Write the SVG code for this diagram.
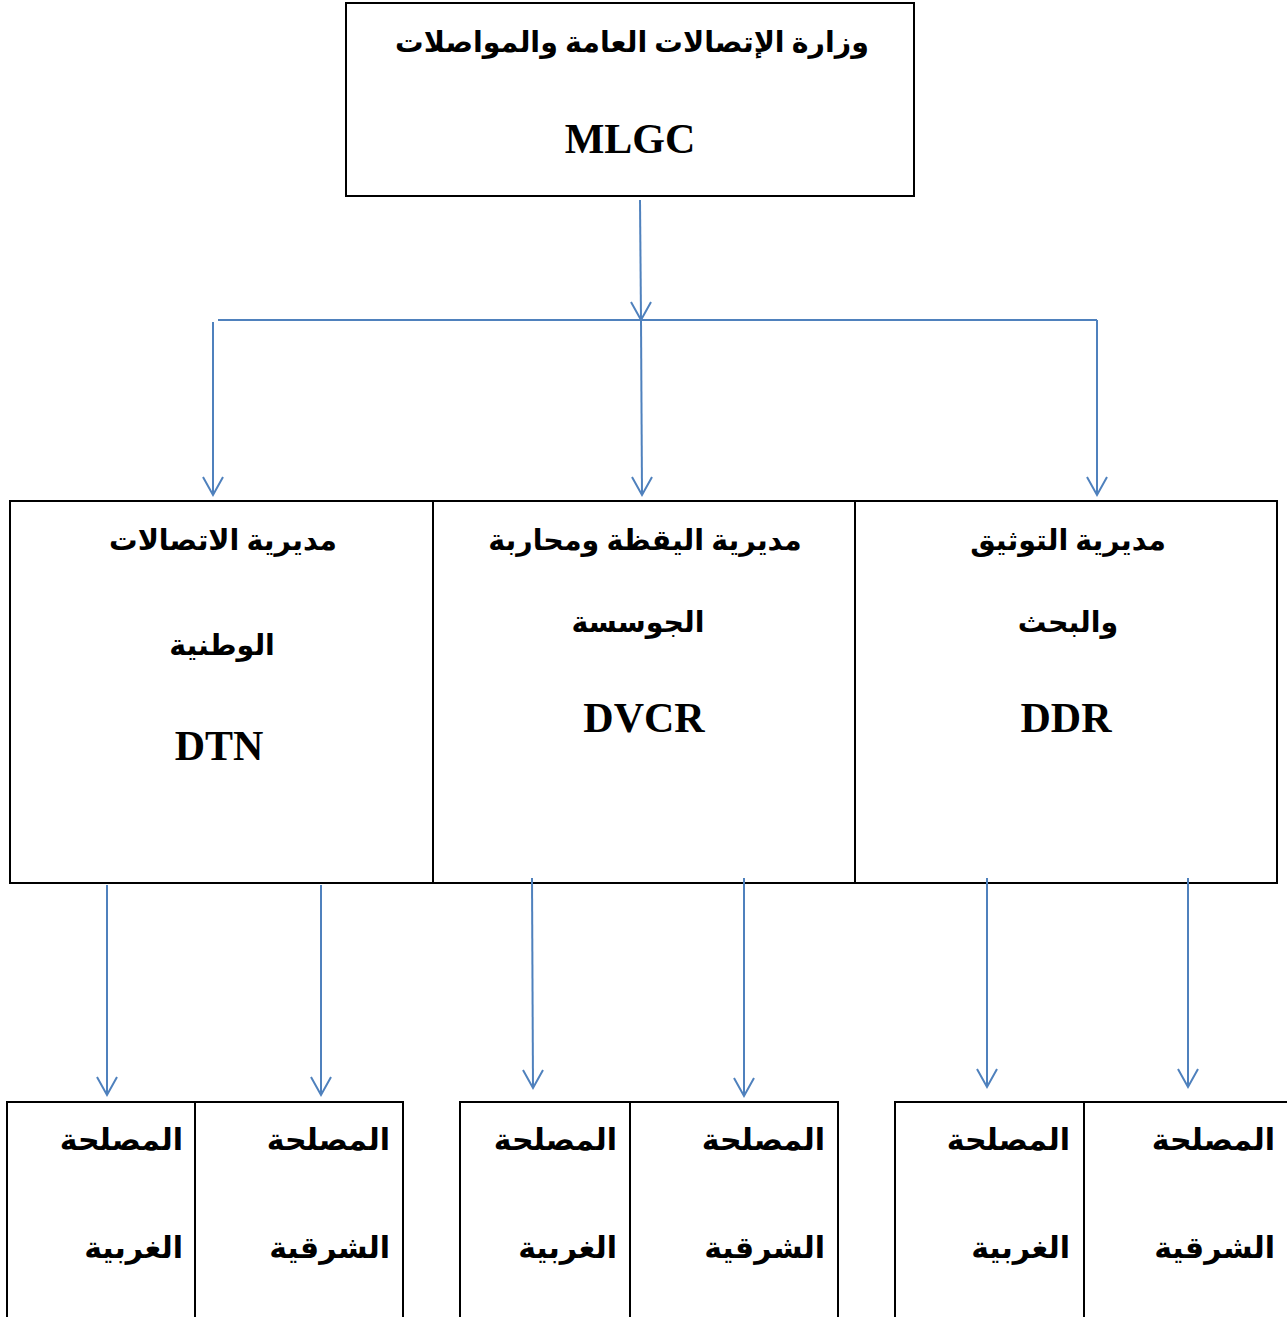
<svg xmlns="http://www.w3.org/2000/svg" width="1287" height="1317" viewBox="0 0 1287 1317">
<style>
.box{fill:#fff;stroke:#000;stroke-width:2}
.ar{font-family:"Liberation Serif","DejaVu Sans",serif;font-weight:bold;font-size:30px;fill:#000}
.h{font-size:28.5px}
.la{font-family:"Liberation Serif",serif;font-weight:bold;font-size:42px;fill:#000;text-anchor:middle}
.c{text-anchor:middle}
.r{text-anchor:end}
.con{stroke:#4f81bd;stroke-width:2;fill:none}
</style>
<defs>
<marker id="dn" markerUnits="userSpaceOnUse" markerWidth="24" markerHeight="24" viewBox="-12 -20 24 24" refX="0" refY="0" orient="0">
<path d="M-10,-18 L0,0 L10,-18" fill="none" stroke="#4f81bd" stroke-width="2"/>
</marker>
</defs>
<g id="mlgc">
<rect class="box" x="346" y="3" width="568" height="193"/>
<text class="ar h c" x="632" y="52" direction="rtl">وزارة الإتصالات العامة والمواصلات</text>
<text class="la" x="630" y="153">MLGC</text>
</g>
<g id="dtn">
<rect class="box" x="10" y="501" width="423" height="382"/>
<text class="ar h c" x="223" y="550" direction="rtl">مديرية الاتصالات</text>
<text class="ar h c" x="222" y="655" direction="rtl">الوطنية</text>
<text class="la" x="219" y="760">DTN</text>
</g>
<g id="dvcr">
<rect class="box" x="433" y="501" width="422" height="382"/>
<text class="ar h c" x="645" y="550" direction="rtl">مديرية اليقظة ومحاربة</text>
<text class="ar h c" x="638" y="632" direction="rtl">الجوسسة</text>
<text class="la" x="644" y="732">DVCR</text>
</g>
<g id="ddr">
<rect class="box" x="855" y="501" width="422" height="382"/>
<text class="ar h c" x="1068" y="550" direction="rtl">مديرية التوثيق</text>
<text class="ar h c" x="1068" y="632" direction="rtl">والبحث</text>
<text class="la" x="1066" y="732">DDR</text>
</g>
<g id="dtn-west">
<rect class="box" x="7" y="1102" width="188" height="230"/>
<text class="ar r" x="183" y="1150" direction="ltr">المصلحة</text>
<text class="ar r" x="183" y="1258" direction="ltr">الغربية</text>
</g>
<g id="dtn-east">
<rect class="box" x="195" y="1102" width="208" height="230"/>
<text class="ar r" x="390" y="1150" direction="ltr">المصلحة</text>
<text class="ar r" x="390" y="1258" direction="ltr">الشرقية</text>
</g>
<g id="dvcr-west">
<rect class="box" x="460" y="1102" width="170" height="230"/>
<text class="ar r" x="617" y="1150" direction="ltr">المصلحة</text>
<text class="ar r" x="617" y="1258" direction="ltr">الغربية</text>
</g>
<g id="dvcr-east">
<rect class="box" x="630" y="1102" width="208" height="230"/>
<text class="ar r" x="825" y="1150" direction="ltr">المصلحة</text>
<text class="ar r" x="825" y="1258" direction="ltr">الشرقية</text>
</g>
<g id="ddr-west">
<rect class="box" x="895" y="1102" width="189" height="230"/>
<text class="ar r" x="1070" y="1150" direction="ltr">المصلحة</text>
<text class="ar r" x="1070" y="1258" direction="ltr">الغربية</text>
</g>
<g id="ddr-east">
<rect class="box" x="1084" y="1102" width="210" height="230"/>
<text class="ar r" x="1275" y="1150" direction="ltr">المصلحة</text>
<text class="ar r" x="1275" y="1258" direction="ltr">الشرقية</text>
</g>
<g id="connectors">
<line class="con" x1="640" y1="200" x2="641" y2="320" marker-end="url(#dn)"/>
<line class="con" x1="218" y1="320" x2="1097" y2="320"/>
<line class="con" x1="213" y1="322" x2="213" y2="495" marker-end="url(#dn)"/>
<line class="con" x1="641" y1="320" x2="642" y2="495" marker-end="url(#dn)"/>
<line class="con" x1="1097" y1="320" x2="1097" y2="495" marker-end="url(#dn)"/>
<line class="con" x1="107" y1="885" x2="107" y2="1095" marker-end="url(#dn)"/>
<line class="con" x1="321" y1="885" x2="321" y2="1095" marker-end="url(#dn)"/>
<line class="con" x1="532" y1="878" x2="533" y2="1088" marker-end="url(#dn)"/>
<line class="con" x1="744" y1="878" x2="744" y2="1096" marker-end="url(#dn)"/>
<line class="con" x1="987" y1="878" x2="987" y2="1087" marker-end="url(#dn)"/>
<line class="con" x1="1188" y1="878" x2="1188" y2="1087" marker-end="url(#dn)"/>
</g>
</svg>
